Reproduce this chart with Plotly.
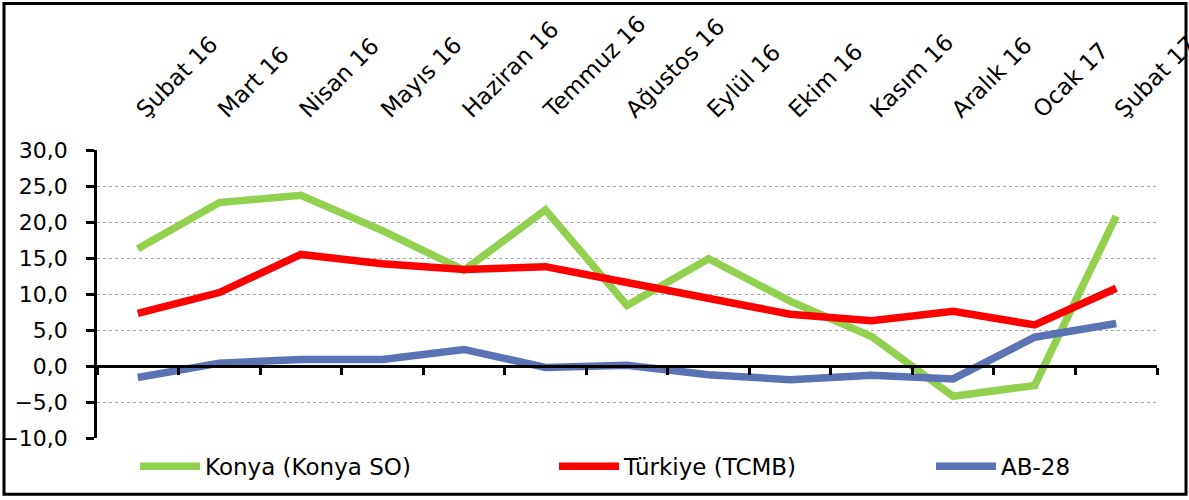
import plotly.graph_objects as go

categories = ["Şubat 16", "Mart 16", "Nisan 16", "Mayıs 16", "Haziran 16", "Temmuz 16",
              "Ağustos 16", "Eylül 16", "Ekim 16", "Kasım 16", "Aralık 16", "Ocak 17", "Şubat 17"]
konya = [16.3, 22.7, 23.7, 18.8, 13.3, 21.7, 8.4, 14.9, 9.0, 4.1, -4.2, -2.7, 20.8]
turkiye = [7.3, 10.2, 15.5, 14.2, 13.4, 13.8, 11.6, 9.5, 7.2, 6.3, 7.6, 5.7, 10.8]
ab28 = [-1.6, 0.4, 0.9, 0.9, 2.3, -0.2, 0.1, -1.2, -1.9, -1.3, -1.8, 4.0, 5.9]
series_names = ["Konya (Konya SO)", "Türkiye (TCMB)", "AB-28"]
series_colors = ["#92D050", "#FF0000", "#5B72B4"]
ytickvals = [-10, -5, 0, 5, 10, 15, 20, 25, 30]

FONT = "DejaVu Sans"

fig = go.Figure()
legend_ids = ["legend", "legend2", "legend3"]
for vals, name, col, lg in zip([konya, turkiye, ab28], series_names, series_colors, legend_ids):
    fig.add_trace(go.Scatter(x=categories, y=vals, mode="lines", name=name,
                             line=dict(color=col, width=7.5), legend=lg,
                             xaxis="x", yaxis="y"))
# invisible trace carrying the top category labels
fig.add_trace(go.Scatter(x=categories, y=[None] * len(categories), mode="lines",
                         showlegend=False, hoverinfo="skip", xaxis="x2", yaxis="y"))

W, H = 1189, 500
# plot area in window pixels
PX0, PX1, PY0, PY1 = 97, 1157, 149.5, 437.7
L = PX0
R = W - PX1
T = PY0
B = H - PY1
pw = PX1 - PX0
ph = PY1 - PY0

def px_x(p):
    return (p - PX0) / pw

def px_y(p):
    return (PY1 - p) / ph

legend_common = dict(orientation="h", yanchor="middle", xanchor="left",
                     font=dict(family=FONT, size=23, color="black"),
                     bgcolor="rgba(0,0,0,0)", itemwidth=60)

fig.update_layout(
    width=W, height=H,
    margin=dict(l=L, r=R, t=T, b=B, autoexpand=False),
    paper_bgcolor="white", plot_bgcolor="white",
    separators=",.",
    font=dict(family=FONT, size=21, color="black"),
    xaxis=dict(type="category", range=[-0.5, 12.5], anchor="free", position=0.25,
               showline=True, linecolor="black", linewidth=2.5,
               ticks="outside", tickson="boundaries", ticklen=7, tickwidth=2.5, tickcolor="black",
               showticklabels=False, showgrid=False, zeroline=False, automargin=False),
    xaxis2=dict(type="category", range=[-0.5, 12.5], overlaying="x", side="top", anchor="y",
                showline=False, ticks="", showgrid=False, zeroline=False, automargin=False,
                tickangle=-45, tickfont=dict(family=FONT, size=23, color="black"),
                ticklabelstandoff=22),
    yaxis=dict(range=[-10, 30], tickvals=ytickvals, tickformat=".1f",
               showline=True, linecolor="black", linewidth=2.5,
               ticks="outside", ticklen=8, tickwidth=2.5, tickcolor="black",
               showgrid=True, gridcolor="#A6A6A6", griddash="dot", gridwidth=1,
               zeroline=False, automargin=False,
               tickfont=dict(family=FONT, size=22, color="black"),
               ticklabelstandoff=14),
    legend=dict(x=px_x(135), y=px_y(466), **legend_common),
    legend2=dict(x=px_x(554), y=px_y(466), **legend_common),
    legend3=dict(x=px_x(931), y=px_y(466), **legend_common),
    shapes=[dict(type="rect", xref="paper", yref="paper",
                 x0=px_x(4), x1=px_x(1186), y0=px_y(494), y1=px_y(3),
                 line=dict(color="black", width=3), fillcolor="rgba(0,0,0,0)", layer="below")],
    showlegend=True,
)

fig.write_html("out.html", config={"displayModeBar": False},
               post_script="document.body.style.margin='0px';")
